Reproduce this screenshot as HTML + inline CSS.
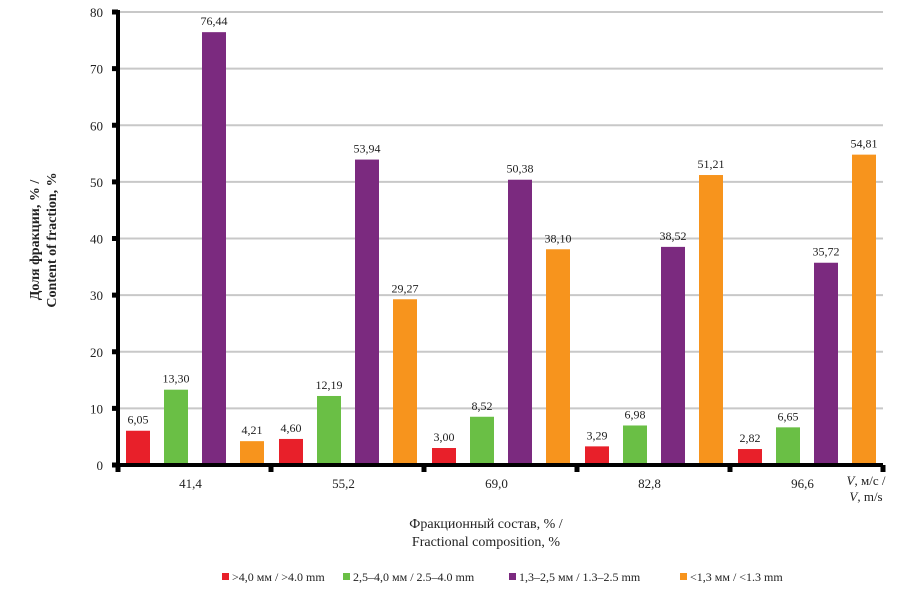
<!DOCTYPE html>
<html><head><meta charset="utf-8"><style>
body{margin:0;background:#fff;}
svg text{font-family:"Liberation Serif",serif;fill:#222;}
</style></head><body>
<svg id="chart" width="909" height="595" xmlns="http://www.w3.org/2000/svg">
<g id="grid"></g><g id="bars"></g><g id="axes"></g>
<text transform="translate(45,240) rotate(-90)" text-anchor="middle" font-size="14" font-weight="bold"><tspan x="0" dy="-6">Доля фракции, % /</tspan><tspan x="0" dy="17">Content of fraction, %</tspan></text>
<text x="486" y="528" text-anchor="middle" font-size="14">Фракционный состав, % /</text>
<text x="486" y="546" text-anchor="middle" font-size="14">Fractional composition, %</text>
<text x="866" y="485" text-anchor="middle" font-size="13"><tspan font-style="italic">V</tspan>, м/с /</text>
<text x="866" y="501" text-anchor="middle" font-size="13"><tspan font-style="italic">V</tspan>, m/s</text>
<g id="legend"></g>
</svg>
<script>
const categories=["41,4","55,2","69,0","82,8","96,6"];
const seriesNames=[">4,0 мм / >4.0 mm","2,5–4,0 мм / 2.5–4.0 mm","1,3–2,5 мм / 1.3–2.5 mm","<1,3 мм / <1.3 mm"];
const s1=[6.05,4.60,3.00,3.29,2.82];
const s2=[13.30,12.19,8.52,6.98,6.65];
const s3=[76.44,53.94,50.38,38.52,35.72];
const s4=[4.21,29.27,38.10,51.21,54.81];
const yTicks=[0,10,20,30,40,50,60,70,80];
const colors=["#e8202a","#6abf45","#7b2a7f","#f7941d"];
const NS="http://www.w3.org/2000/svg";
const X0=118,X1=883,Y0=465,Y1=12,YMAX=80;
const y=v=>Y0-(v/YMAX)*(Y0-Y1);
const gw=(X1-X0)/categories.length;
function mk(tag,attrs,parent){const e=document.createElementNS(NS,tag);for(const k in attrs)e.setAttribute(k,attrs[k]);parent.appendChild(e);return e;}
const grid=document.getElementById('grid'),bars=document.getElementById('bars'),axes=document.getElementById('axes'),legend=document.getElementById('legend');
yTicks.forEach(t=>{
 if(t>0){const l=mk('line',{x1:X0,x2:X1,y1:y(t),y2:y(t),stroke:'#c8c8c8','stroke-width':2},grid);
 
 }
 const tx=mk('text',{x:103,y:y(t)+5,'text-anchor':'end','font-size':13},axes);tx.textContent=t;
 
 
 const tk=mk('rect',{x:X0-6,y:y(t)-2.5,width:6,height:5,fill:'#000'},axes);
 
 
});
const all=[s1,s2,s3,s4];
categories.forEach((c,i)=>{
 all.forEach((s,j)=>{
  const bx=X0+i*gw+8+j*38,v=s[i];
  const r=mk('rect',{x:bx,y:y(v),width:24,height:Y0-y(v),fill:colors[j]},bars);
  
  
  const lb=mk('text',{x:bx+12,y:y(v)-7,'text-anchor':'middle','font-size':12},bars);
  lb.textContent=v.toFixed(2).replace('.',',');
  
  
 });
 const xl=mk('text',{x:X0+i*gw+gw/2-4,y:488,'text-anchor':'middle','font-size':13},axes);xl.textContent=c;
 
 
});
for(let i=0;i<=categories.length;i++){
 const tk=mk('rect',{x:X0+i*gw-2.5,y:Y0,width:5,height:7,fill:'#000'},axes);
 
 
}
const ya=mk('line',{x1:X0,x2:X0,y1:Y1-2,y2:Y0+2,stroke:'#000','stroke-width':4},axes);


const xa=mk('line',{x1:X0-2,x2:X1,y1:Y0,y2:Y0,stroke:'#000','stroke-width':4},axes);


const lx=[222,343,509,680];
seriesNames.forEach((n,j)=>{
 const g=mk('g',{},legend);
 
 
 mk('rect',{x:lx[j],y:573,width:7,height:7,fill:colors[j]},g);
 const t=mk('text',{x:lx[j]+10,y:581,'font-size':12},g);t.textContent=n;
});
</script>
</body></html>
